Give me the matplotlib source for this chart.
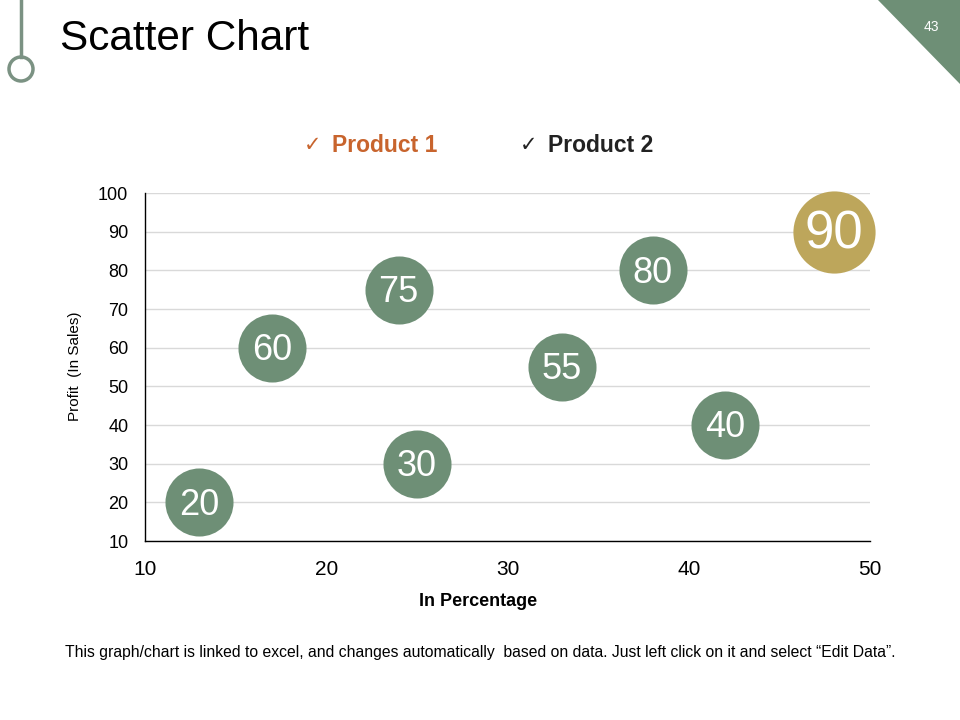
import matplotlib
matplotlib.use("Agg")
from matplotlib import pyplot as plt
from matplotlib.patches import Polygon, Circle
from matplotlib.lines import Line2D

plt.rcParams['font.family'] = ['Liberation Sans', 'DejaVu Sans']

# data
p1_x = [13, 17, 24, 25, 33, 38, 42]
p1_y = [20, 60, 75, 30, 55, 80, 40]
p2_x = [48]
p2_y = [90]

x_ticks = [10, 20, 30, 40, 50]
y_ticks = [10, 20, 30, 40, 50, 60, 70, 80, 90, 100]

GREEN = '#6E8F76'
GOLD = '#BDA65B'
ORANGE = '#C8642D'
DECO = '#7B9283'

fig = plt.figure(figsize=(9.6, 7.2), dpi=100)

def fx(px):
    return px / 960

def fy(py):
    return 1 - py / 720

# slide decorations
fig.add_artist(Line2D([fx(21), fx(21)], [1, fy(57)], color=DECO, lw=2.5))
fig.add_artist(Circle((0.21, 7.2 - 0.69), 0.12, transform=fig.dpi_scale_trans,
                      fill=False, ec=DECO, lw=2.5))
fig.add_artist(Polygon([[fx(878), 1], [1, 1], [1, fy(84)]], closed=True,
                       transform=fig.transFigure, fc=GREEN, ec='none'))
fig.text(fx(931), fy(27), '43', color='white', fontsize=10, ha='center', va='center')
fig.text(fx(60), fy(39), 'Scatter Chart', fontsize=30.5, ha='left', va='center')

ax = fig.add_axes([fx(145), 179 / 720, 725 / 960, 348 / 720])
ax.scatter(p1_x, p1_y, s=2400, color=GREEN, zorder=3, clip_on=False, linewidths=0)
ax.scatter(p2_x, p2_y, s=3500, color=GOLD, zorder=3, clip_on=False, linewidths=0)
for x, y in zip(p1_x, p1_y):
    ax.annotate(str(y), (x, y), xytext=(0, -2), textcoords='offset points',
                color='white', fontsize=26, ha='center', va='center', zorder=4)
for x, y in zip(p2_x, p2_y):
    ax.annotate(str(y), (x, y), xytext=(0, -2), textcoords='offset points',
                color='white', fontsize=38, ha='center', va='center', zorder=4)

ax.set_xlim(10, 50)
ax.set_ylim(10, 100)
ax.set_xticks(x_ticks)
ax.set_yticks(y_ticks)
ax.tick_params(axis='x', labelsize=15, length=0, pad=14)
ax.tick_params(axis='y', labelsize=13, length=0, pad=12)
ax.grid(axis='y', color='#D9D9D9', lw=1)
ax.set_axisbelow(True)
for s in ['top', 'right']:
    ax.spines[s].set_visible(False)
for s in ['left', 'bottom']:
    ax.spines[s].set_color('black')
    ax.spines[s].set_linewidth(1)

# axis titles placed as on the slide
fig.text(fx(478), fy(601), 'In Percentage', fontsize=13, fontweight='bold',
         ha='center', va='center')
fig.text(fx(75), fy(366), 'Profit  (In Sales)', fontsize=11, rotation=90,
         ha='center', va='center')

# legend as text
fig.text(fx(304), fy(145), '\u2713', color=ORANGE, fontsize=15, va='center',
         family=['DejaVu Sans'])
fig.text(fx(332), fy(145), 'Product 1', color=ORANGE, fontsize=16.5,
         fontweight='bold', va='center')
fig.text(fx(520), fy(145), '\u2713', color='#222222', fontsize=15, va='center',
         family=['DejaVu Sans'])
fig.text(fx(548), fy(145), 'Product 2', color='#222222', fontsize=16.5,
         fontweight='bold', va='center')

fig.text(fx(480), fy(652),
         'This graph/chart is linked to excel, and changes automatically  based on data. '
         'Just left click on it and select \u201cEdit Data\u201d.',
         fontsize=11.3, ha='center', va='center')

fig.savefig('out.png', dpi=100)
